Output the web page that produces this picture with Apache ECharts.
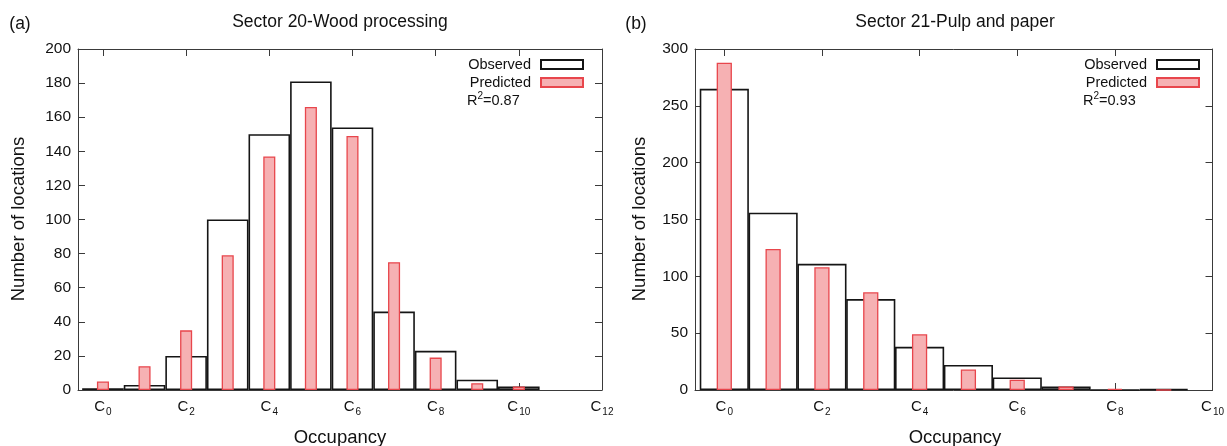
<!DOCTYPE html>
<html><head><meta charset="utf-8">
<script src="https://cdn.jsdelivr.net/npm/echarts@6/dist/echarts.min.js"></script>
<style>html,body{margin:0;padding:0;background:#fff}#c{width:1227px;height:446px}</style>
</head><body><div id="c"></div>
<script>
// ---- data (a) Sector 20 - Wood processing ----
const binsA = [0,1,2,3,4,5,6,7,8,9,10];
const observedA = [1,3,20,100,150,181,154,46,23,6,2];
const predictedA = [5,14,35,79,137,166,149,75,19,4,2];
const xTicksA = [0,2,4,6,8,10,12];
const titleA = 'Sector 20-Wood processing';
const r2A = '0.87';
// ---- data (b) Sector 21 - Pulp and paper ----
const binsB = [0,1,2,3,4,5,6,7,8,9];
const observedB = [265,156,111,80,38,22,11,3,0,1];
const predictedB = [288,124,108,86,49,18,9,3,1,0];
const xTicksB = [0,2,4,6,8,10];
const titleB = 'Sector 21-Pulp and paper';
const r2B = '0.93';

const FONT = '"Liberation Sans", Arial, Helvetica, sans-serif';
const TXT = '#111';
const AX = '#3a3a3a';

const G = [
  {left:78, top:49, width:524, height:341, xmin:-0.6, xmax:12, ymax:200, yint:20, ticks:xTicksA},
  {left:695, top:49, width:521, height:341, xmin:-0.6, xmax:10, ymax:300, yint:50, ticks:xTicksB}
];

const cLabel = v => '{c|C}{s|' + v + '}';
const richC = {
  c:{fontSize:15, fontFamily:FONT, color:TXT, verticalAlign:'top', lineHeight:17},
  s:{fontSize:10, fontFamily:FONT, color:TXT, verticalAlign:'top', lineHeight:11, padding:[8,0,0,1]}
};

const line = {show:true, onZero:false, lineStyle:{color:AX, width:1}};
const xAxes = [], yAxes = [];
G.forEach((g, gi) => {
  xAxes.push({type:'value', gridIndex:gi, position:'bottom', min:g.xmin, max:g.xmax,
    axisLine:line,
    axisTick:{show:true, inside:true, length:7, customValues:g.ticks, lineStyle:{color:AX}},
    axisLabel:{show:true, customValues:g.ticks, margin:9, formatter:cLabel, rich:richC},
    splitLine:{show:false}});
  xAxes.push({type:'value', gridIndex:gi, position:'top', min:g.xmin, max:g.xmax,
    axisLine:line,
    axisTick:{show:true, inside:true, length:7, customValues:g.ticks, lineStyle:{color:AX}},
    axisLabel:{show:false}, splitLine:{show:false}});
  yAxes.push({type:'value', gridIndex:gi, position:'left', min:0, max:g.ymax, interval:g.yint,
    axisLine:line,
    axisTick:{show:true, inside:true, length:7, lineStyle:{color:AX}},
    axisLabel:{show:true, fontSize:15.5, fontFamily:FONT, color:TXT, margin:7},
    splitLine:{show:false}});
  yAxes.push({type:'value', gridIndex:gi, position:'right', min:0, max:g.ymax, interval:g.yint,
    axisLine:line,
    axisTick:{show:true, inside:true, length:7, lineStyle:{color:AX}},
    axisLabel:{show:false}, splitLine:{show:false}});
});

const unit = g => g.width / (g.xmax - g.xmin);
const obsStyle = {color:'#ffffff', borderColor:'#151515', borderWidth:1.6};
const predStyle = {color:'#f6b1b3', borderColor:'#e8464c', borderWidth:1.3};

function mk(name, bins, vals, xi, yi, width, style, z){
  return {name, type:'bar', xAxisIndex:xi, yAxisIndex:yi, barWidth:width,
    data: bins.map((b,i)=>[b, vals[i]]), itemStyle:style, z, silent:true, animation:false};
}

const series = [
  mk('Observed', binsA, observedA, 0, 0, unit(G[0]), obsStyle, 2),
  mk('Predicted', binsA, predictedA, 1, 0, unit(G[0])*0.29, predStyle, 3),
  mk('Observed', binsB, observedB, 2, 2, unit(G[1]), obsStyle, 2),
  mk('Predicted', binsB, predictedB, 3, 2, unit(G[1])*0.31, predStyle, 3)
];

function legend(right){
  return {orient:'vertical', right:right, top:57, align:'right', icon:'rect',
    itemWidth:42, itemHeight:9, itemGap:3, padding:0, selectedMode:false,
    data:['Observed','Predicted'],
    textStyle:{fontSize:14.5, fontFamily:FONT, color:TXT, lineHeight:15, padding:[0,5,0,0]}};
}

function txt(x, y, text, size, align, rot){
  return {type:'text', x, y, rotation:rot||0, silent:true,
    style:{text, fill:TXT, font:size+'px '+FONT, align:align||'center', verticalAlign:'middle'}};
}
function r2(x, y, val){
  return {type:'text', x, y, silent:true,
    style:{text:'{r|R}{p|2}{r|=' + val + '}', align:'left', verticalAlign:'middle',
      rich:{r:{fontSize:14.5, fontFamily:FONT, fill:TXT, verticalAlign:'bottom', lineHeight:17},
            p:{fontSize:10, fontFamily:FONT, fill:TXT, verticalAlign:'top', lineHeight:10}}}};
}

const option = {
  backgroundColor:'#fff',
  animation:false,
  grid: G.map(g=>({left:g.left, top:g.top, width:g.width, height:g.height, containLabel:false})),
  xAxis: xAxes, yAxis: yAxes, series,
  legend:[legend(1227-584), legend(1227-1200)],
  graphic:[
    txt(20, 24, '(a)', 17.5),
    txt(636, 24, '(b)', 17.5),
    txt(340, 22, titleA, 17.5),
    txt(955, 22, titleB, 17.5),
    txt(19, 219, 'Number of locations', 18.5, 'center', Math.PI/2),
    txt(640, 219, 'Number of locations', 18.5, 'center', Math.PI/2),
    txt(340, 438, 'Occupancy', 18.5),
    txt(955, 438, 'Occupancy', 18.5),
    r2(467, 100, r2A),
    r2(1083, 100, r2B)
  ]
};
const chart = echarts.init(document.getElementById('c'), null, {renderer:'canvas'});
chart.setOption(option);
</script></body></html>
